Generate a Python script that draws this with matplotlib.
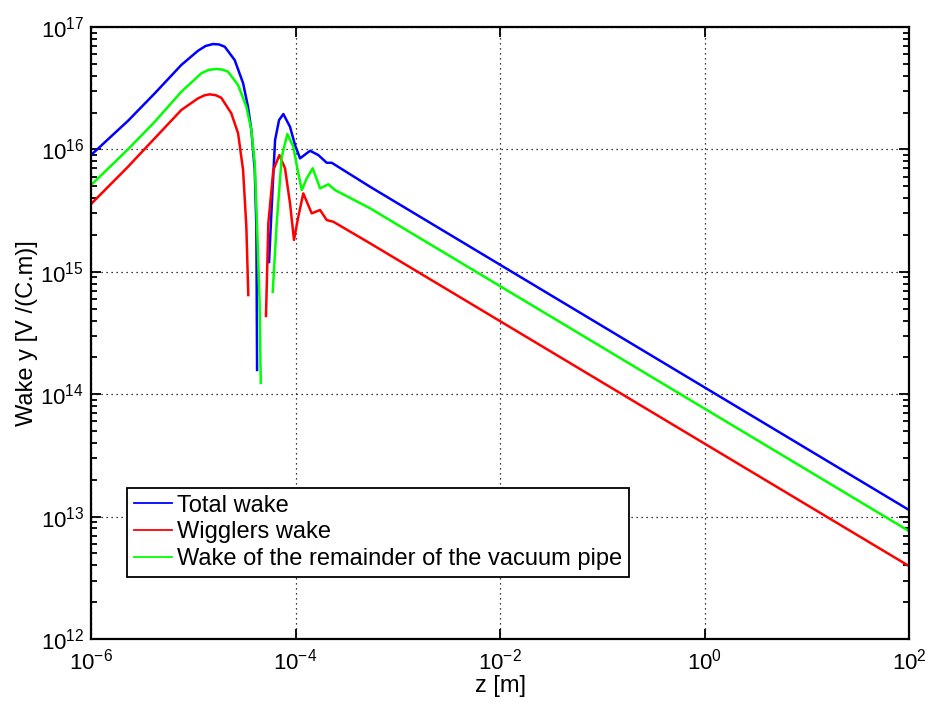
import numpy as np
import matplotlib
matplotlib.use("Agg")
import matplotlib.pyplot as plt
from matplotlib.ticker import LogLocator, NullLocator, NullFormatter

plt.rcParams['font.family'] = ['Liberation Sans', 'DejaVu Sans']
plt.rcParams['mathtext.fontset'] = 'custom'
plt.rcParams['mathtext.rm'] = 'Liberation Sans'

nan = float('nan')

# Curves, stored as log10 values (nan = curve goes negative, not drawn)
total_logz = [-6.000, -5.638, -5.377, -5.117, -4.954, -4.880, -4.807, -4.750, -4.692, -4.595,
              -4.513, -4.465, -4.432, -4.399, -4.383, -4.376, nan, -4.259, -4.230, -4.200,
              -4.161, -4.119, -4.054, -4.005, -3.956, -3.858, -3.777, -3.695, -3.646, -3.271,
              -2.000, 2.000]
total_logw = [15.954, 16.234, 16.458, 16.690, 16.806, 16.845, 16.861, 16.858, 16.839, 16.730,
              16.542, 16.349, 16.158, 15.832, 15.368, 14.198, nan, 15.080, 15.587, 16.077,
              16.240, 16.289, 16.185, 16.036, 15.927, 15.989, 15.954, 15.891, 15.891, 15.695,
              15.058, 13.054]

wiggler_logz = [-6.000, -5.638, -5.377, -5.117, -4.954, -4.890, -4.839, -4.780, -4.726, -4.628,
                -4.562, -4.513, -4.481, -4.462, nan, -4.289, -4.266, -4.217, -4.158, -4.103,
                -4.054, -4.015, -3.973, -3.924, -3.842, -3.760, -3.695, -3.630, -3.271, 2.000]
wiggler_logw = [15.554, 15.859, 16.091, 16.322, 16.417, 16.442, 16.450, 16.443, 16.422, 16.295,
                16.132, 15.832, 15.368, 14.810, nan, 14.639, 15.396, 15.832, 15.954, 15.846,
                15.560, 15.260, 15.450, 15.641, 15.478, 15.505, 15.423, 15.409, 15.233, 12.596]

pipe_logz = [-6.000, -5.638, -5.377, -5.117, -4.921, -4.850, -4.775, -4.715, -4.660, -4.562,
             -4.481, -4.432, -4.399, -4.376, -4.352, -4.340, nan, -4.223, -4.184, -4.135,
             -4.080, -4.022, -3.973, -3.939, -3.890, -3.832, -3.760, -3.679, -3.614, -3.271,
             2.000]
pipe_logw = [15.709, 16.001, 16.226, 16.471, 16.622, 16.650, 16.657, 16.652, 16.635, 16.526,
             16.349, 16.158, 15.889, 15.368, 14.770, 14.092, nan, 14.837, 15.399, 15.940,
             16.126, 16.022, 15.805, 15.668, 15.764, 15.846, 15.682, 15.715, 15.668, 15.519,
             12.882]

labels = ["Total wake", "Wigglers wake", "Wake of the remainder of the vacuum pipe"]
colors = ["#0000ff", "#ff0000", "#00ff00"]

x_ticks = [1e-6, 1e-4, 1e-2, 1e0, 1e2]
x_ticklabels = [r'$\mathregular{10^{-6}}$', r'$\mathregular{10^{-4}}$', r'$\mathregular{10^{-2}}$',
                r'$\mathregular{10^{0}}$', r'$\mathregular{10^{2}}$']
y_ticks = [1e12, 1e13, 1e14, 1e15, 1e16, 1e17]
y_ticklabels = [r'$\mathregular{10^{12}}$', r'$\mathregular{10^{13}}$', r'$\mathregular{10^{14}}$',
                r'$\mathregular{10^{15}}$', r'$\mathregular{10^{16}}$', r'$\mathregular{10^{17}}$']

fig = plt.figure(figsize=(9.26, 7.02), dpi=100)
ax = fig.add_axes([0.0983, 0.0897, 0.8834, 0.8718])

series = [(total_logz, total_logw), (wiggler_logz, wiggler_logw), (pipe_logz, pipe_logw)]
for (lz, lw), lab, col in zip(series, labels, colors):
    ax.plot(np.power(10.0, lz), np.power(10.0, lw), color=col, lw=1.8, label=lab,
            solid_joinstyle='round')

ax.set_xscale('log')
ax.set_yscale('log')
ax.set_xlim(1e-6, 1e2)
ax.set_ylim(1e12, 1e17)

ax.set_xticks(x_ticks)
ax.set_xticklabels(x_ticklabels)
ax.xaxis.set_minor_locator(NullLocator())
ax.set_yticks(y_ticks)
ax.set_yticklabels(y_ticklabels)
ax.yaxis.set_minor_locator(LogLocator(base=10, subs=np.arange(2, 10), numticks=20))
ax.yaxis.set_minor_formatter(NullFormatter())

ax.tick_params(which='both', direction='in', top=True, right=True, labelsize=16, width=1.3)
ax.tick_params(which='major', length=7)
ax.tick_params(which='minor', length=4)
ax.tick_params(axis='y', which='major', pad=5)
ax.tick_params(axis='x', which='major', pad=7)
for s in ax.spines.values():
    s.set_linewidth(1.6)

ax.grid(True, which='major', linestyle=(0, (1, 3)), color='black', linewidth=0.9)

ax.set_xlabel("z [m]", fontsize=17, labelpad=0)
ax.set_ylabel("Wake y [V /(C.m)]", fontsize=17, labelpad=2)

leg = ax.legend(loc='lower left', bbox_to_anchor=(0.044, 0.101), borderaxespad=0,
                fontsize=17, handlelength=1.6, handletextpad=0.2, labelspacing=0.2,
                borderpad=0.3, fancybox=False, framealpha=1, edgecolor='black')
leg.get_frame().set_linewidth(1.3)
for line in leg.get_lines():
    line.set_linewidth(1.3)

fig.savefig("out.png", dpi=100)
